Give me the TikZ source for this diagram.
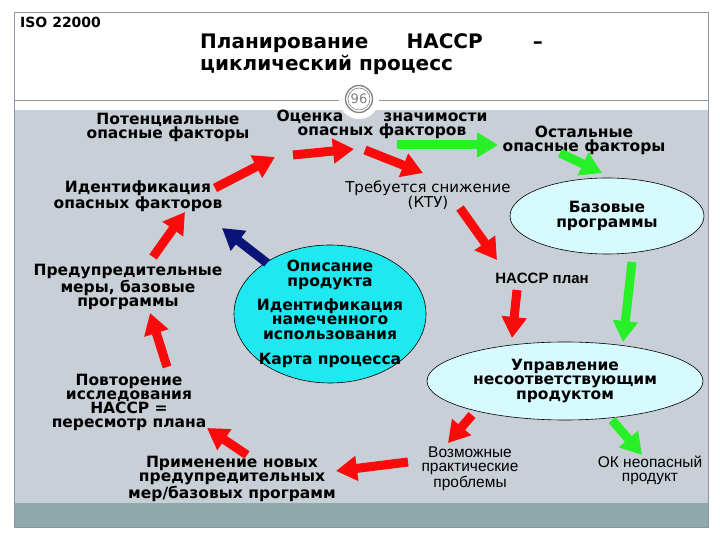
\documentclass[tikz,border=0pt]{standalone}
\usepackage{fontspec}
\setmainfont{DejaVu Sans}
\newfontfamily\arialfont{Liberation Sans}
\usetikzlibrary{arrows.meta,shapes.geometric,calc}
\definecolor{slide}{RGB}{200,207,214}
\definecolor{band}{RGB}{143,170,170}
\definecolor{framegray}{RGB}{140,150,160}
\definecolor{paleblue}{RGB}{215,250,255}
\definecolor{aqua}{RGB}{30,232,240}
\definecolor{hotred}{RGB}{250,10,10}
\definecolor{lime}{RGB}{40,240,40}
\definecolor{navyarr}{RGB}{10,20,120}

\begin{document}
\begin{tikzpicture}[x=1pt,y=1pt,
  lbl/.style={font=\fontsize{15.5}{14}\selectfont\bfseries, align=center, inner sep=1pt},
  plain/.style={font=\fontsize{15}{14}\selectfont, align=center, inner sep=1pt},
  narrow/.style={font=\arialfont\fontsize{15.5}{14}\selectfont, align=center, inner sep=0pt},
  oval/.style={ellipse, draw=black, line width=0.6pt, fill=paleblue, inner sep=0pt,
    align=center, font=\fontsize{15.5}{14.5}\selectfont\bfseries},
  fat/.style={line width=9pt, -{Triangle[length=21pt,width=24pt]}},
  redarr/.style={fat, hotred},
  greenarr/.style={fat, lime},
  bluearr/.style={fat, navyarr},
]
\useasboundingbox (0,0) rectangle (720,540);

% slide frame
\fill[slide] (14,37) rectangle (708,430);
\fill[band] (14,13) rectangle (708,37);
\draw[framegray, line width=0.8pt] (14,13) rectangle (708,528);
\draw[framegray, line width=0.8pt] (14,440) -- (708,440);

% page number
\fill[white] (359,441) circle (20);
\draw[gray, line width=1.3pt] (359,441) circle (13.5);
\draw[gray, line width=0.6pt] (359,441) circle (11);
\node[text=gray, font=\fontsize{13}{13}\selectfont] (page) at (359,441) {96};

% title
\node[anchor=base west, font=\fontsize{14}{14}\selectfont\bfseries, inner sep=0pt] (iso) at (20,512) {ISO 22000};
\node[anchor=base west, font=\fontsize{20}{22}\selectfont\bfseries, inner sep=0pt] (title) at (200,491)
  {Планирование\hspace{38pt}HACCP\hspace{50pt}–};
\node[anchor=base west, font=\fontsize{20}{22}\selectfont\bfseries, inner sep=0pt] (title2) at (200,469)
  {циклический процесс};

% cycle
\node[lbl] (potenc) at (168,413) {Потенциальные\\опасные факторы};
\node[lbl] (ocenka) at (382,416) {Оценка\hspace{40pt}значимости\\опасных факторов};
\node[lbl] (ostal) at (584,400) {Остальные\\опасные факторы};
\node[lbl] (ident) at (138,344) {Идентификация\\опасных факторов};
\node[plain] (treb) at (428,345) {Требуется снижение\\(КТУ)};
\node[oval, minimum width=194pt, minimum height=76pt] (bazov) at (607,324) {Базовые\\программы};
\node[lbl] (predupr) at (128,253) {Предупредительные\\меры, базовые\\программы};
\node[oval, fill=aqua, minimum width=192pt, minimum height=138pt, inner sep=-20pt] (opis) at (330,226)
  {Описание\\продукта\\[8pt]Идентификация\\намеченного\\использования\\[11pt]Карта процесса};
\node[font=\arialfont\bfseries\fontsize{15}{15}\selectfont] (haccp) at (542,262) {HACCP план};
\node[oval, minimum width=276pt, minimum height=78pt] (uprav) at (565,159) {Управление\\несоответствующим\\продуктом};
\node[lbl] (povtor) at (129,138) {Повторение\\исследования\\HACCP =\\пересмотр плана};
\node[lbl] (primen) at (232,61) {Применение новых\\предупредительных\\мер/базовых программ};
\node[narrow] (vozm) at (470,71) {Возможные\\практические\\проблемы};
\node[narrow] (ok) at (650,70) {ОК неопасный\\продукт};

\coordinate (turn) at ($(ocenka)+(-28,-25)$);

\draw[redarr] ($(ident)+(77,8)$) -- ($(ocenka)+(-107,-33)$);
\draw[redarr] ($(ocenka)+(-89,-31)$) -- (turn);
\draw[redarr] ($(turn)+(11,-1)$) -- ($(treb)+(-5,22)$);
\draw[greenarr] ($(ocenka)+(15,-21)$) -- ($(ostal)+(-86,-5)$);
\draw[greenarr] ($(ostal)+(-24,-13)$) -- ($(bazov)+(-5,43)$);
\draw[redarr] ($(treb)+(32,-13)$) -- ($(haccp)+(-45,18)$);
\draw[greenarr] ($(bazov)+(25,-46)$) -- ($(uprav)+(58,39)$);
\draw[redarr] ($(haccp)+(-25,-12)$) -- ($(uprav)+(-53,43)$);
\draw[redarr] ($(uprav)+(-93,-34)$) -- ($(vozm)+(-22,26)$);
\draw[greenarr] ($(uprav)+(47,-39)$) -- ($(ok)+(-8,15)$);
\draw[redarr] ($(vozm)+(-62,7)$) -- ($(primen)+(104,8)$);
\draw[redarr] ($(primen)+(15,24)$) -- ($(povtor)+(78,-26)$);
\draw[redarr] ($(povtor)+(38,35)$) -- ($(predupr)+(22,-26)$);
\draw[redarr] ($(predupr)+(25,30)$) -- ($(ident)+(47,-16)$);
\draw[bluearr] ($(opis)+(-63,51)$) -- ($(ident)+(84,-32)$);

\end{tikzpicture}
\end{document}
